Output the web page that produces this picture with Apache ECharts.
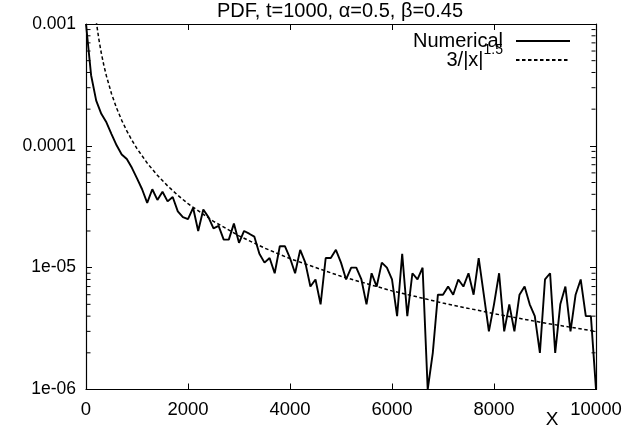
<!DOCTYPE html>
<html>
<head>
<meta charset="utf-8">
<script src="https://cdn.jsdelivr.net/npm/echarts@6/dist/echarts.min.js"></script>
<style>html,body{margin:0;padding:0;background:#fff}#c{width:626px;height:427px}</style>
</head>
<body>
<div id="c"></div>
<script>
// ---- data ----
const titleText = 'PDF, t=1000, \u03b1=0.5, \u03b2=0.45';
const seriesNames = ['Numerical', '3/|x|^1.5'];
const binWidth = 100;
const numericalValues = [
  1.0e-3, 3.8e-4, 2.35e-4, 1.83e-4, 1.56e-4, 1.25e-4, 1.01e-4, 8.5e-5, 7.8e-5, 6.6e-5,
  5.4e-5, 4.4e-5, 3.4e-5, 4.4e-5, 3.6e-5, 4.2e-5, 3.5e-5, 3.8e-5, 2.9e-5, 2.6e-5,
  2.5e-5, 3.1e-5, 2.0e-5, 3.0e-5, 2.6e-5, 2.1e-5, 2.2e-5, 1.7e-5, 1.7e-5, 2.3e-5,
  1.6e-5, 2.0e-5, 1.9e-5, 1.8e-5, 1.3e-5, 1.1e-5, 1.2e-5, 9e-6, 1.5e-5, 1.5e-5,
  1.2e-5, 9e-6, 1.4e-5, 1.1e-5, 7e-6, 8e-6, 5e-6, 1.2e-5, 1.2e-5, 1.4e-5,
  1.1e-5, 8e-6, 1e-5, 1e-5, 8e-6, 5e-6, 9e-6, 7e-6, 1.1e-5, 1e-5,
  8e-6, 4e-6, 1.3e-5, 4e-6, 9e-6, 8e-6, 1e-5, 1e-6, 2e-6, 6e-6,
  6e-6, 7e-6, 6e-6, 8e-6, 7e-6, 9e-6, 6e-6, 1.2e-5, 6e-6, 3e-6,
  5e-6, 9e-6, 3e-6, 5e-6, 3e-6, 6e-6, 7e-6, 5e-6, 4e-6, 2e-6,
  8e-6, 9e-6, 2e-6, 5e-6, 7e-6, 3e-6, 6e-6, 8e-6, 4e-6, 4e-6,
  1e-6
];
const powerLawX = [200, 250, 300, 350, 400, 500, 600, 700, 800, 900, 1000, 1200, 1400, 1600, 1800, 2000, 2500, 3000, 3500, 4000, 5000, 6000, 7000, 8000, 9000, 10000];
const powerLawY = [1.061e-3, 7.59e-4, 5.77e-4, 4.58e-4, 3.75e-4, 2.68e-4, 2.04e-4, 1.62e-4, 1.326e-4, 1.111e-4, 9.49e-5, 7.22e-5, 5.73e-5, 4.69e-5, 3.93e-5, 3.35e-5, 2.4e-5, 1.826e-5, 1.449e-5, 1.186e-5, 8.49e-6, 6.45e-6, 5.12e-6, 4.19e-6, 3.51e-6, 3.0e-6];
const xTickLabels = ['0', '2000', '4000', '6000', '8000', '10000'];
const yTickLabels = {'-6': '1e-06', '-5': '1e-05', '-4': '0.0001', '-3': '0.001'};
const minorMultipliers = [2, 3, 4, 5, 6, 7, 8, 9];
const decades = [1e-6, 1e-5, 1e-4];

// ---- build ----
const numericalData = numericalValues.map((v, i) => [i * binWidth, v]);
const powerData = powerLawX.map((x, i) => [x, powerLawY[i]]);
const minorTicks = [];
decades.forEach(d => minorMultipliers.forEach(m => minorTicks.push([0, d * m])));

const FONT = 'Liberation Sans, Arial, sans-serif';
const chart = echarts.init(document.getElementById('c'), null, {renderer: 'canvas'});

const xBase = {
  type: 'value', min: 0, max: 10000, interval: 2000,
  splitLine: {show: false},
  axisLine: {show: true, onZero: false, lineStyle: {color: '#000', width: 1.2}},
  axisTick: {show: true, inside: true, length: 6, lineStyle: {color: '#000', width: 1}}
};
const yBase = {
  type: 'log', logBase: 10, min: 1e-6, max: 1e-3,
  splitLine: {show: false},
  axisLine: {show: true, onZero: false, lineStyle: {color: '#000', width: 1.2}},
  axisTick: {show: true, inside: true, length: 6, lineStyle: {color: '#000', width: 1}}
};

chart.setOption({
  animation: false,
  backgroundColor: '#fff',
  grid: {left: 86, right: 30, top: 24, bottom: 37.5, containLabel: false},
  xAxis: [
    Object.assign({}, xBase, {
      position: 'bottom',
      axisLabel: {show: true, margin: 11, color: '#000', fontSize: 18.5, fontFamily: FONT,
        formatter: v => xTickLabels[Math.round(v / 2000)]}
    }),
    Object.assign({}, xBase, {position: 'top', axisLabel: {show: false}})
  ],
  yAxis: [
    Object.assign({}, yBase, {
      position: 'left',
      axisLabel: {show: true, margin: 10, color: '#000', fontSize: 17.5, fontFamily: FONT,
        formatter: v => yTickLabels[String(Math.round(Math.log10(v)))] || ''}
    }),
    Object.assign({}, yBase, {position: 'right', axisLabel: {show: false}})
  ],
  legend: {
    orient: 'vertical', right: 50, top: 26, align: 'right',
    itemWidth: 54, itemHeight: 10, itemGap: -8,
    data: seriesNames,
    itemStyle: {opacity: 0, borderWidth: 0},
    formatter: n => n === seriesNames[1] ? '3/|x|{sup|1.5}' : n,
    textStyle: {fontSize: 20, fontFamily: FONT, color: '#000', padding: [0, 8, 0, 0],
      rich: {sup: {fontSize: 14, fontFamily: FONT, color: '#000', verticalAlign: 'top', padding: [0, 0, 20, 0]}}}
  },
  graphic: [
    {type: 'text', x: 340, y: 11, style: {text: titleText, fontSize: 20, fontFamily: FONT, fill: '#000', textAlign: 'center', textVerticalAlign: 'middle'}},
    {type: 'text', x: 552, y: 420, style: {text: 'X', fontSize: 19, fontFamily: FONT, fill: '#000', textAlign: 'center', textVerticalAlign: 'middle'}}
  ],
  series: [
    {
      name: seriesNames[0], type: 'line', data: numericalData, symbol: 'none',
      clip: true, lineStyle: {color: '#000', width: 1.9}, itemStyle: {color: '#000'}
    },
    {
      name: seriesNames[1], type: 'line', data: powerData, symbol: 'none', smooth: false,
      clip: true, lineStyle: {color: '#000', width: 1.5, type: [3.5, 2.5]}, itemStyle: {color: '#000'}
    },
    {
      type: 'custom', silent: true, clip: false, z: 5, data: minorTicks, encode: {x: 0, y: 1},
      renderItem: (params, api) => {
        const v = api.value(1);
        const pL = api.coord([0, v]);
        const pR = api.coord([10000, v]);
        return {type: 'group', children: [
          {type: 'line', shape: {x1: pL[0] + 0.5, y1: pL[1], x2: pL[0] + 4.5, y2: pL[1]}, style: {stroke: '#000', lineWidth: 1}},
          {type: 'line', shape: {x1: pR[0] - 4.5, y1: pR[1], x2: pR[0] - 0.5, y2: pR[1]}, style: {stroke: '#000', lineWidth: 1}}
        ]};
      }
    }
  ]
});
</script>
</body>
</html>
